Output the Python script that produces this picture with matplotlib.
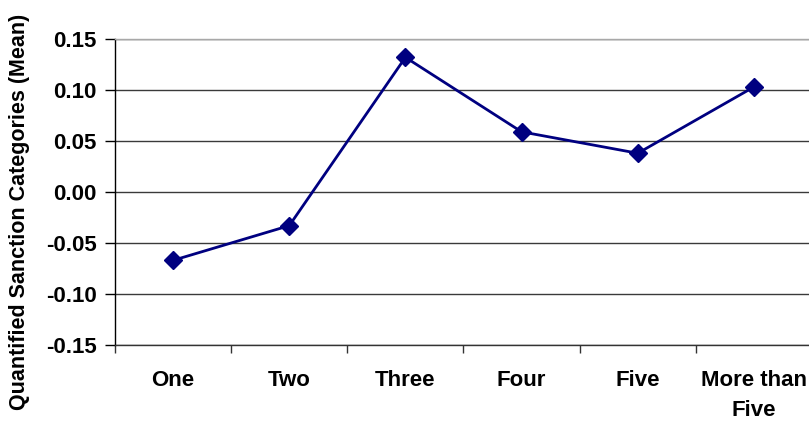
import matplotlib
matplotlib.use("Agg")
import matplotlib.pyplot as plt
from matplotlib.ticker import FixedLocator, NullFormatter

categories = ["One", "Two", "Three", "Four", "Five", "More than\nFive"]
means = [-0.067, -0.033, 0.132, 0.059, 0.038, 0.103]
y_ticks = [-0.15, -0.10, -0.05, 0.00, 0.05, 0.10, 0.15]
y_label = "Quantified Sanction Categories (Mean)"

plt.rcParams['font.family'] = ['Liberation Sans', 'DejaVu Sans']

W, H = 809, 421
fig = plt.figure(figsize=(W / 100, H / 100), dpi=100)
ax = fig.add_axes([115 / W, (H - 345) / H, (812 - 115) / W, (345 - 39) / H])

x = list(range(len(categories)))
ax.plot(x, means, color="#000080", linewidth=2.0, marker="D", markersize=9,
        markerfacecolor="#000080", markeredgecolor="#000080", zorder=3)

ax.set_xlim(-0.5, len(categories) - 0.5)
ax.set_ylim(y_ticks[0], y_ticks[-1])

# y axis
ax.set_yticks(y_ticks)
ax.set_yticklabels([f"{v:.2f}" for v in y_ticks], fontsize=16, fontweight="bold")
ax.tick_params(axis="y", length=7, width=1, color="black", pad=6)
ax.yaxis.grid(True, color="#3a3a3a", linewidth=1)
ax.set_axisbelow(True)

# x axis: ticks at category boundaries, labels at category centres
ax.xaxis.set_major_locator(FixedLocator([i - 0.5 for i in range(len(categories) + 1)]))
ax.xaxis.set_major_formatter(NullFormatter())
ax.xaxis.set_minor_locator(FixedLocator(x))
ax.set_xticklabels(categories, minor=True, fontsize=16, fontweight="bold",
                   linespacing=1.55, va="top")
ax.tick_params(axis="x", which="major", length=6, width=1, color="#333333")
ax.tick_params(axis="x", which="minor", length=0, pad=18)

ax.set_ylabel(y_label, fontsize=15.5, fontweight="bold")
ax.yaxis.set_label_coords(-0.122, 0.435)

for side in ("left", "bottom"):
    ax.spines[side].set_color("black")
    ax.spines[side].set_linewidth(1)
ax.spines["bottom"].set_color("#333333")
ax.spines["top"].set_color("#a8a8a8")
ax.spines["top"].set_linewidth(1)
ax.spines["right"].set_visible(False)

fig.savefig("out.png", dpi=100, facecolor="white")
